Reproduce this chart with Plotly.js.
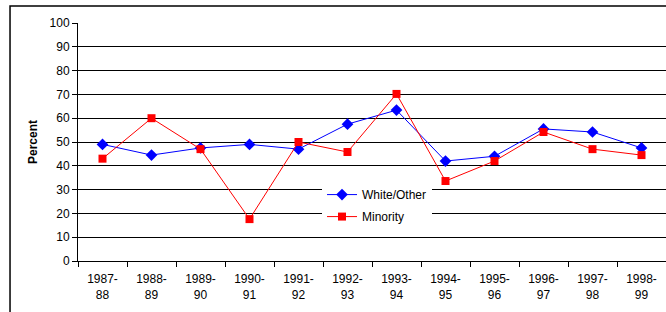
<!DOCTYPE html>
<html>
<head>
<meta charset="utf-8">
<script src="https://cdn.plot.ly/plotly-3.0.1.min.js"></script>
<style>
  html, body { margin: 0; padding: 0; background: #fff; }
  #chart { width: 666px; height: 312px; }
</style>
</head>
<body>
<div id="chart"></div>
<script>
const categories = ["1987-<br>88", "1988-<br>89", "1989-<br>90", "1990-<br>91", "1991-<br>92", "1992-<br>93",
                    "1993-<br>94", "1994-<br>95", "1995-<br>96", "1996-<br>97", "1997-<br>98", "1998-<br>99"];
const whiteOther = [49, 44.5, 47.5, 49, 47, 57.5, 63.4, 42, 44, 55.5, 54.2, 47.5];
const minority   = [43, 60, 47, 17.6, 50, 45.8, 70.2, 33.6, 42, 54.2, 47, 44.5];
const yTicks = [0, 10, 20, 30, 40, 50, 60, 70, 80, 90, 100];

const traces = [
  {
    x: categories, y: whiteOther, name: "White/Other", type: "scatter", mode: "lines+markers",
    legendgroup: "a",
    line: { color: "#0000FF", width: 1 },
    marker: { symbol: "diamond", size: 9, color: "#0000FF" }
  },
  {
    x: categories, y: minority, name: "Minority", type: "scatter", mode: "lines+markers",
    legendgroup: "b",
    line: { color: "#FF0000", width: 1 },
    marker: { symbol: "square", size: 8, color: "#FF0000" }
  }
];

const layout = {
  width: 666, height: 312,
  margin: { l: 78, r: 0, t: 23, b: 51 },
  paper_bgcolor: "#fff", plot_bgcolor: "#fff",
  font: { family: "Liberation Sans, Arial, sans-serif", size: 12, color: "#000" },
  showlegend: true,
  legend: {
    x: 0.415, y: 0.34, xanchor: "left", yanchor: "top",
    bgcolor: "#fff", borderwidth: 0,
    font: { size: 12, color: "#000" },
    traceorder: "grouped", tracegroupgap: 3, itemwidth: 30
  },
  xaxis: {
    type: "category",
    tickson: "boundaries",
    ticks: "outside", ticklen: 5, tickcolor: "#000",
    ticklabelstandoff: 7,
    showline: true, linecolor: "#000", linewidth: 1,
    showgrid: false, zeroline: false,
    tickfont: { size: 12 },
    range: [-0.5, 11.5],
    fixedrange: true
  },
  yaxis: {
    range: [0, 100],
    tickvals: yTicks,
    ticks: "outside", ticklen: 5, tickcolor: "#000",
    showline: true, linecolor: "#000", linewidth: 1,
    showgrid: true, gridcolor: "#000", gridwidth: 1,
    zeroline: false,
    tickfont: { size: 12 },
    fixedrange: true
  },
  annotations: [{
    text: "<b>Percent</b>", xref: "paper", yref: "paper",
    x: -0.0765, y: 0.5, xanchor: "center", yanchor: "middle",
    textangle: -90, showarrow: false, font: { size: 12, color: "#000" }
  }],
  shapes: [{
    type: "rect", xref: "paper", yref: "paper",
    x0: -0.1156, x1: 1.2, y0: -0.3, y1: 1.0714,
    line: { color: "#000", width: 1.5 }, fillcolor: "rgba(0,0,0,0)", layer: "below"
  }]
};

Plotly.newPlot("chart", traces, layout, { displayModeBar: false, staticPlot: true });
</script>
</body>
</html>
